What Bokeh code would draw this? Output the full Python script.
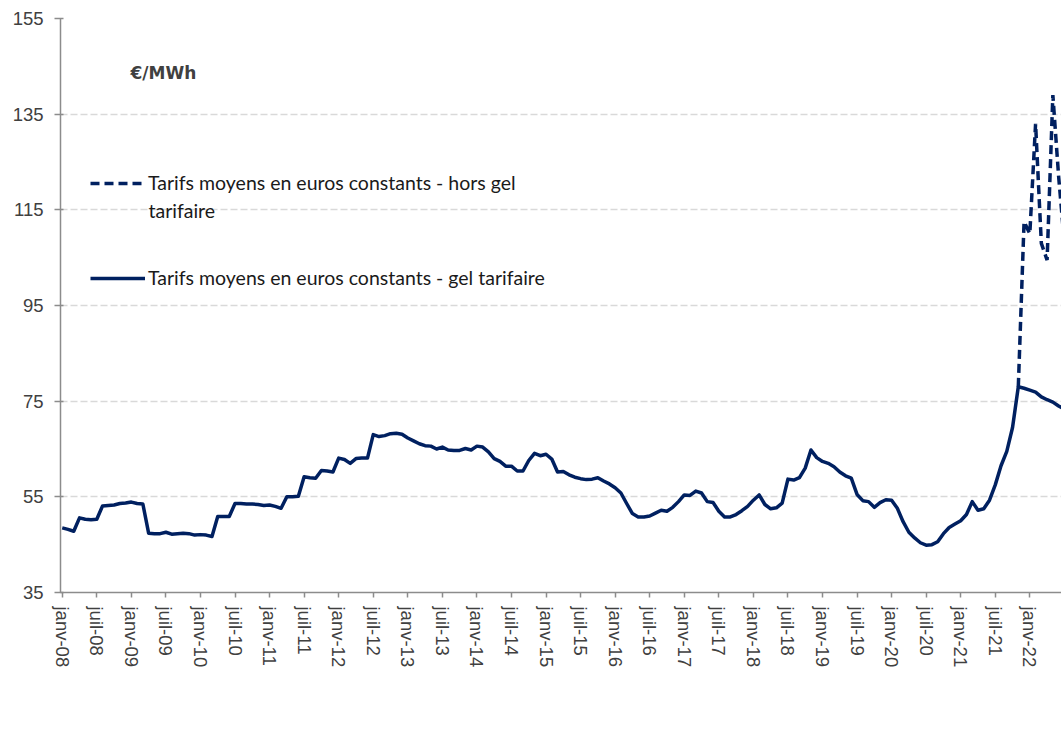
from bokeh.plotting import figure
from bokeh.models import FixedTicker, Legend, LegendItem, Label, Range1d
from bokeh.embed import file_html
from bokeh.resources import INLINE

# ---------------- data ----------------
month_names = ["janv", "févr", "mars", "avr", "mai", "juin",
               "juil", "août", "sept", "oct", "nov", "déc"]
years = ["08", "09", "10", "11", "12", "13", "14", "15", "16", "17", "18", "19", "20", "21", "22"]

tick_labels = ["janv-08", "juil-08", "janv-09", "juil-09", "janv-10", "juil-10",
               "janv-11", "juil-11", "janv-12", "juil-12", "janv-13", "juil-13",
               "janv-14", "juil-14", "janv-15", "juil-15", "janv-16", "juil-16",
               "janv-17", "juil-17", "janv-18", "juil-18", "janv-19", "juil-19",
               "janv-20", "juil-20", "janv-21", "juil-21", "janv-22"]

y_ticks = [35, 55, 75, 95, 115, 135, 155]

# Tarifs moyens en euros constants - gel tarifaire (monthly, from janv-08)
gel_tarifaire = [
    48.5, 48.2, 47.8, 50.6, 50.3, 50.2, 50.3, 53.1, 53.2, 53.3, 53.6, 53.7,   # 2008
    53.9, 53.6, 53.5, 47.4, 47.3, 47.3, 47.6, 47.2, 47.3, 47.4, 47.3, 47.0,   # 2009
    47.1, 47.0, 46.7, 50.9, 50.9, 50.9, 53.6, 53.6, 53.5, 53.5, 53.4, 53.2,   # 2010
    53.3, 53.0, 52.6, 55.0, 55.0, 55.1, 59.2, 59.0, 58.9, 60.5, 60.4, 60.2,   # 2011
    63.1, 62.8, 62.0, 63.0, 63.1, 63.1, 68.0, 67.6, 67.8, 68.2, 68.3, 68.1,   # 2012
    67.3, 66.7, 66.1, 65.7, 65.6, 65.0, 65.4, 64.8, 64.7, 64.7, 65.1, 64.8,   # 2013
    65.6, 65.4, 64.4, 63.0, 62.4, 61.4, 61.4, 60.4, 60.4, 62.6, 64.1, 63.6,   # 2014
    63.9, 62.9, 60.2, 60.3, 59.6, 59.1, 58.8, 58.6, 58.7, 59.0, 58.3, 57.7,   # 2015
    56.9, 55.8, 53.6, 51.5, 50.8, 50.8, 51.0, 51.6, 52.2, 52.0, 52.8, 54.0,   # 2016
    55.4, 55.3, 56.2, 55.8, 54.0, 53.8, 52.0, 50.8, 50.8, 51.3, 52.1, 53.0,   # 2017
    54.3, 55.4, 53.4, 52.5, 52.7, 53.7, 58.7, 58.5, 59.0, 61.0, 64.8, 63.2,   # 2018
    62.4, 62.0, 61.3, 60.2, 59.4, 58.9, 55.5, 54.2, 54.0, 52.8, 53.8, 54.4,   # 2019
    54.3, 52.6, 49.8, 47.6, 46.4, 45.4, 44.9, 45.0, 45.6, 47.3, 48.6, 49.3,   # 2020
    50.0, 51.3, 54.0, 52.2, 52.5, 54.3, 57.5, 61.5, 64.5, 69.5, 78.0, 77.7,   # 2021
    77.3, 76.9, 75.9, 75.3, 74.8, 74.0, 73.3,                                  # 2022
]

# Tarifs moyens en euros constants - hors gel tarifaire (diverges from nov-21)
hors_gel_from = "nov-21"
hors_gel = [78.0, 112.5, 110.0, 133.0, 108.0, 104.5, 139.0, 122.0, 108.0]

label_hors_gel = "Tarifs moyens en euros constants - hors gel"
label_hors_gel_2 = "tarifaire"
label_gel = "Tarifs moyens en euros constants - gel tarifaire"
unit_text = "€/MWh"

# ---------------- build ----------------
months = [f"{m}-{y}" for y in years for m in month_names]
x_gel = list(range(len(gel_tarifaire)))
i0 = months.index(hors_gel_from)
x_hg = list(range(i0, i0 + len(hors_gel)))

NAVY = "#002060"
GREY_TXT = "#404040"
AXIS = "#8c8c8c"

W, H = 1061, 748
LEFT, TOP = 60, 18
FRAME_H = 574

p = figure(width=W, height=H, output_backend="svg", toolbar_location=None,
           x_range=Range1d(-0.3, 173.5), y_range=Range1d(35, 155),
           min_border_left=LEFT, min_border_right=0, min_border_top=TOP,
           min_border_bottom=H - TOP - FRAME_H)
p.outline_line_color = None
p.background_fill_color = "white"
p.border_fill_color = "white"

# x axis
tick_pos = [months.index(t) for t in tick_labels]
p.xaxis.ticker = FixedTicker(ticks=tick_pos)
p.xaxis.major_label_overrides = {pos: lab for pos, lab in zip(tick_pos, tick_labels)}
p.xaxis.major_label_orientation = "vertical"
p.xaxis.minor_tick_line_color = None
p.xaxis.major_tick_out = 5
p.xaxis.major_tick_in = 0
p.xaxis.major_label_standoff = 9
p.xaxis.axis_line_color = AXIS
p.xaxis.axis_line_width = 1.5
p.xaxis.major_tick_line_color = AXIS
p.xaxis.major_tick_line_width = 1.5
p.xaxis.major_label_text_font = "Liberation Sans"
p.xaxis.major_label_text_font_size = "18.5px"
p.xaxis.major_label_text_color = GREY_TXT

# y axis
p.yaxis.ticker = FixedTicker(ticks=y_ticks)
p.yaxis.minor_tick_line_color = None
p.yaxis.major_tick_out = 6
p.yaxis.major_tick_in = 3
p.yaxis.major_label_standoff = 11
p.yaxis.axis_line_color = AXIS
p.yaxis.axis_line_width = 1.5
p.yaxis.major_tick_line_color = AXIS
p.yaxis.major_tick_line_width = 1.5
p.yaxis.major_label_text_font = "Liberation Sans"
p.yaxis.major_label_text_font_size = "18.5px"
p.yaxis.major_label_text_color = GREY_TXT

# grid
p.xgrid.visible = False
p.ygrid.grid_line_color = "#d9d9d9"
p.ygrid.grid_line_width = 1.5
p.ygrid.grid_line_dash = "7 3"

# lines
r_hg = p.line(x_hg, hors_gel, line_color=NAVY, line_width=3.5, line_dash="9 5")
r_gel = p.line(x_gel, gel_tarifaire, line_color=NAVY, line_width=3.5, line_join="round")

# legends
common = dict(border_line_color=None, background_fill_alpha=0, padding=0, margin=0,
              glyph_width=55, glyph_height=20, label_standoff=3,
              label_text_font="Lato", label_text_font_size="19.5px",
              label_text_color="#1a1a1a", spacing=0)
leg1 = Legend(items=[LegendItem(label=label_hors_gel, renderers=[r_hg])],
              location=(30, 398), **common)
leg2 = Legend(items=[LegendItem(label=label_gel, renderers=[r_gel])],
              location=(30, 303), **common)
p.add_layout(leg1)
p.add_layout(leg2)

wrap = Label(x=88, y=382, x_units="screen", y_units="screen", text=label_hors_gel_2,
             text_font="Lato", text_font_size="19.5px", text_color="#1a1a1a",
             text_baseline="middle", text_align="left")
p.add_layout(wrap)

unit = Label(x=70, y=520, x_units="screen", y_units="screen", text=unit_text,
             text_font="DejaVu Sans", text_font_style="bold", text_font_size="17px",
             text_color=GREY_TXT, text_baseline="middle", text_align="left")
p.add_layout(unit)

open("out.html", "w").write(file_html(p, INLINE))
